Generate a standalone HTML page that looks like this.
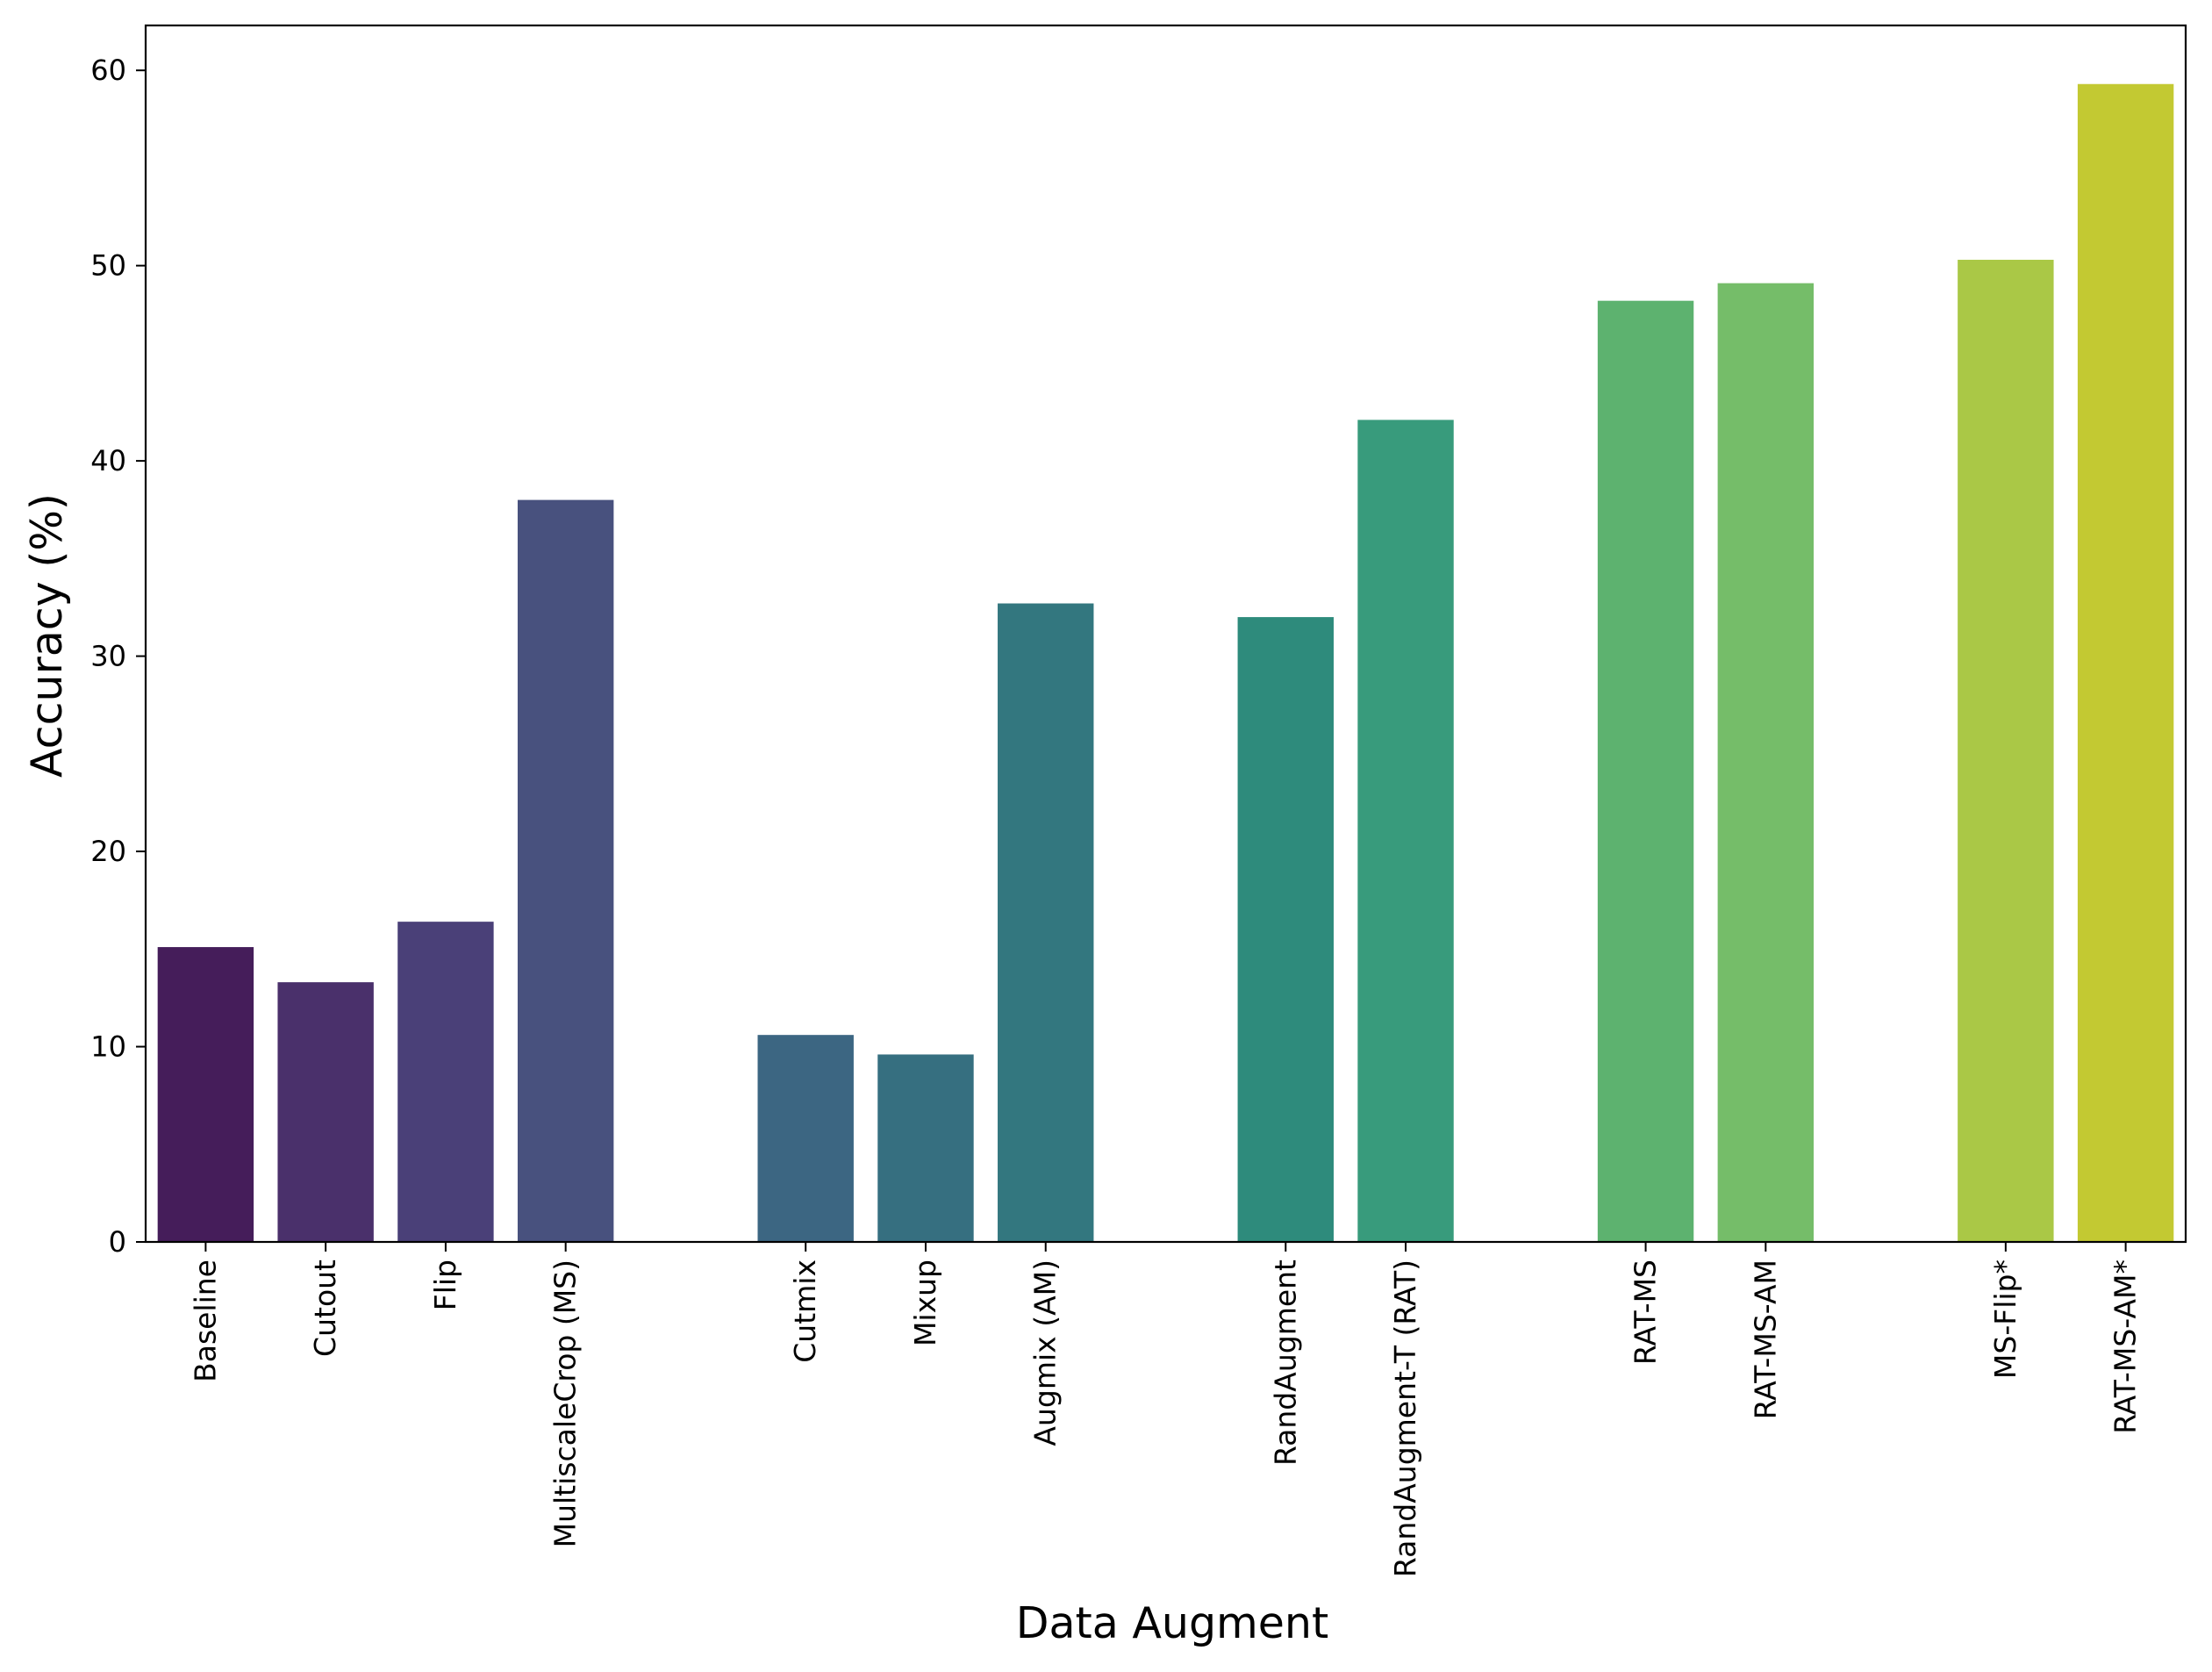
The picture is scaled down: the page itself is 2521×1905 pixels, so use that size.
<!DOCTYPE html>
<html><head><meta charset="utf-8"><style>body{margin:0;background:#fff}svg{display:block}text{font-family:"DejaVu Sans","Liberation Sans",sans-serif;fill:#000}</style></head>
<body>
<svg id="chart" width="2521" height="1905" viewBox="0 0 2521 1905" xmlns="http://www.w3.org/2000/svg">
<g id="bars"></g>
<g id="yticks"></g>
<g id="xticks"></g>
<rect x="166" y="29" width="2325" height="1386" fill="none" stroke="#000" stroke-width="2.2"/>
<text x="1336" y="1866" font-size="49" text-anchor="middle">Data Augment</text>
<text transform="translate(70,724) rotate(-90)" font-size="49" text-anchor="middle">Accuracy (%)</text>
</svg>
<script>
const categories = ["Baseline","Cutout","Flip","MultiscaleCrop (MS)","","Cutmix","Mixup","Augmix (AM)","","RandAugment","RandAugment-T (RAT)","","RAT-MS","RAT-MS-AM","","MS-Flip*","RAT-MS-AM*"];
const values = [15.1,13.3,16.4,38.0,null,10.6,9.6,32.7,null,32.0,42.1,null,48.2,49.1,null,50.3,59.3];
const colors = ["#451d5a","#4a306b","#4a4078","#48517e","","#3c6682","#366f80","#33777f","","#2e8b7c","#389b7c","","#5db26f","#75bd69","","#aac846","#c3c932"];
const yTicks = [0,10,20,30,40,50,60];

const L=166,R=2491,T=29,B=1415,yMax=62.3;
const n=categories.length, bw=(R-L)/n;
const xc=i=>L+(i+0.5)*bw;
const y=v=>B-v/yMax*(B-T);
const NS="http://www.w3.org/2000/svg";
function mk(tag,attrs,parent){const e=document.createElementNS(NS,tag);for(const k in attrs)e.setAttribute(k,attrs[k]);parent.appendChild(e);return e;}
const gb=document.getElementById('bars'),gy=document.getElementById('yticks'),gx=document.getElementById('xticks');
values.forEach((v,i)=>{
  if(v===null)return;
  const r=mk('rect',{x:xc(i)-0.4*bw,y:y(v),width:0.8*bw,height:B-y(v),fill:colors[i]},gb);
  
  
  const t=mk('line',{x1:xc(i),x2:xc(i),y1:B,y2:B+11,stroke:'#000','stroke-width':2},gx);
  
  
  const lb=mk('text',{transform:`translate(${xc(i)+11},${B+20}) rotate(-90)`,'font-size':'33','text-anchor':'end'},gx);
  lb.textContent=categories[i];
  
  
});
yTicks.forEach(v=>{
  const t=mk('line',{x1:L-11,x2:L,y1:y(v),y2:y(v),stroke:'#000','stroke-width':2},gy);
  
  
  const lb=mk('text',{x:L-22,y:y(v)+11,'font-size':'32','text-anchor':'end'},gy);
  lb.textContent=v;
  
  
});
</script>
</body></html>
